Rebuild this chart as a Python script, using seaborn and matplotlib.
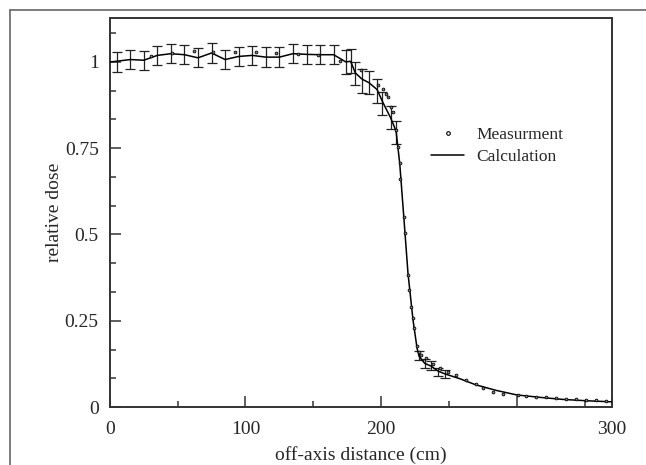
import matplotlib
matplotlib.use("Agg")
import matplotlib.pyplot as plt
import matplotlib.lines as mlines
from matplotlib.ticker import FixedLocator, MultipleLocator
import pandas as pd
import seaborn as sns

# calculated profile (solid line)
calc_x = [0, 5, 15, 25, 35, 45, 55, 65, 75, 85, 95, 105, 115, 125, 135, 145,
          155, 165, 174, 177.5, 181, 186, 191, 197, 201, 207, 211, 213.7,
          216.7, 219.8, 223.5, 226.5, 228, 232, 237, 242, 247, 258, 270, 285,
          300, 317, 334, 352, 370]
calc_y = [1.000, 1.002, 1.007, 1.005, 1.019, 1.024, 1.021, 1.012, 1.026,
          1.007, 1.016, 1.019, 1.014, 1.014, 1.024, 1.022, 1.021, 1.021,
          1.000, 1.002, 0.968, 0.950, 0.940, 0.920, 0.885, 0.838, 0.800,
          0.706, 0.551, 0.387, 0.252, 0.170, 0.147, 0.127, 0.118, 0.104,
          0.096, 0.082, 0.064, 0.048, 0.035, 0.028, 0.022, 0.018, 0.015]

# error bars on the calculation
err_x = [5, 15, 25, 35, 45, 55, 65, 75, 85, 95, 105, 115, 125, 135, 145, 155,
         165, 174, 177.5, 181, 186, 191, 197, 201, 207, 211, 228, 232, 237,
         242, 247]
err_y = [1.000, 1.007, 1.005, 1.019, 1.024, 1.021, 1.012, 1.026, 1.007,
         1.016, 1.019, 1.014, 1.014, 1.024, 1.022, 1.021, 1.021, 1.000, 1.003,
         0.966, 0.945, 0.940, 0.916, 0.879, 0.839, 0.795, 0.149, 0.126, 0.120,
         0.102, 0.096]
err_e = [0.028] * 17 + [0.034] * 9 + [0.012] * 5

# measured points
meas_x = [30.7, 45.5, 62, 76, 92, 107.6, 122.8, 138.8, 153.5, 169.5, 185.5,
          197.7, 201.4, 203.9, 205, 207.5, 208.8, 210.8, 212.4, 213.7, 214.2,
          216.7, 217.4, 219.8, 220.6, 222.3, 223.5, 224, 226.5, 228, 229.6,
          233.3, 238.2, 243.2, 249.3, 255.4, 262.8, 270.2, 275, 282.5, 289.8,
          300.9, 307, 314.4, 321.8, 329, 336.5, 344, 351.3, 358.6, 366]
meas_y = [1.016, 1.026, 1.031, 1.029, 1.029, 1.029, 1.026, 1.022, 1.019,
          1.003, 0.978, 0.932, 0.923, 0.908, 0.899, 0.870, 0.855, 0.802, 0.754,
          0.706, 0.662, 0.551, 0.503, 0.382, 0.339, 0.290, 0.257, 0.230, 0.178,
          0.160, 0.152, 0.141, 0.126, 0.112, 0.102, 0.093, 0.078, 0.067, 0.054,
          0.044, 0.038, 0.035, 0.032, 0.030, 0.028, 0.026, 0.024, 0.022, 0.020,
          0.019, 0.017]

sns.set_style("ticks")
plt.rcParams['font.family'] = ['Liberation Serif', 'DejaVu Serif']

fig = plt.figure(figsize=(6.46, 4.65), dpi=100)
ax = fig.add_axes([0.170, 0.1247, 0.777, 0.8363])

calc = pd.DataFrame({'x': calc_x, 'y': calc_y})
meas = pd.DataFrame({'x': meas_x, 'y': meas_y})

ax.errorbar(err_x, err_y, yerr=err_e, fmt='none', ecolor='#222222',
            elinewidth=0.9, capsize=3.5, capthick=0.9, zorder=2)
sns.lineplot(data=calc, x='x', y='y', color='black', linewidth=1.1,
             sort=False, estimator=None, ax=ax, zorder=3)
sns.scatterplot(data=meas, x='x', y='y', marker='o', s=4, facecolor='#888888',
                edgecolor='black', linewidth=0.6, ax=ax, zorder=4)

ax.set_xlim(0, 370)
ax.set_ylim(0, 1.127)
ax.set_xticks([0, 100, 200, 300, 370], ['0', '100', '200', '', '300'])
ax.xaxis.set_minor_locator(FixedLocator([50, 150, 250, 350]))
ax.set_yticks([0, 0.25, 0.5, 0.75, 1.0], ['0', '0.25', '0.5', '0.75', '1'])
ax.yaxis.set_minor_locator(MultipleLocator(1 / 12))
ax.tick_params(which='major', direction='in', length=8, width=1.1,
               labelsize=14, color='#333333', pad=8)
ax.tick_params(axis='x', which='major', pad=10)
ax.tick_params(which='minor', direction='in', length=4, width=1.1,
               color='#333333')
for s in ax.spines.values():
    s.set_color('#333333')
    s.set_linewidth(1.4)

ax.set_xlabel('off-axis distance (cm)', fontsize=14, labelpad=6)
ax.set_ylabel('relative dose', fontsize=14, labelpad=1)

h1 = mlines.Line2D([], [], linestyle='none', marker='o', markersize=2.6,
                   markerfacecolor='white', markeredgecolor='black',
                   markeredgewidth=0.8)
h2 = mlines.Line2D([], [], color='black', linewidth=1.1)
ax.legend([h1, h2], ['Measurment', 'Calculation'], loc='upper left',
          bbox_to_anchor=(0.64, 0.72), frameon=False, fontsize=12.5,
          handlelength=1.9, handletextpad=0.7, labelspacing=0.35,
          borderpad=0, borderaxespad=0)

# outer frame of the original figure
fig.add_artist(mlines.Line2D([10 / 646, 1], [1 - 10 / 465, 1 - 10 / 465],
                             color='#666666', linewidth=1.2))
fig.add_artist(mlines.Line2D([10 / 646, 10 / 646], [0, 1 - 10 / 465],
                             color='#666666', linewidth=1.2))

fig.savefig('out.png', dpi=100)
plt.close()
